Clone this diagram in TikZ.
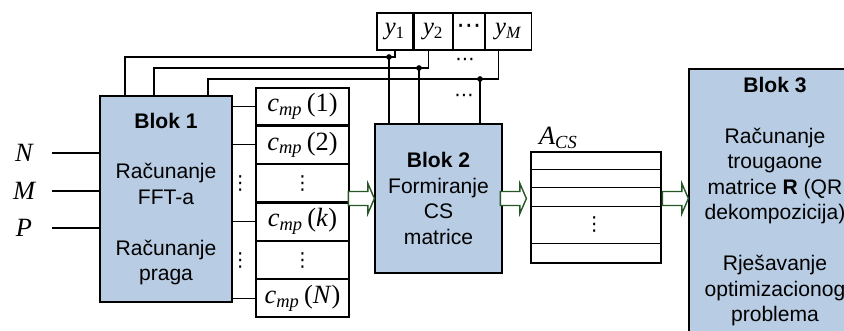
\documentclass[tikz,border=0pt]{standalone}
\usepackage{fontspec}
\setsansfont{Liberation Sans}
\newfontfamily\tms{Liberation Serif}
\newfontfamily\djv{DejaVu Sans}
\usepackage{tikz}
\usetikzlibrary{positioning,calc}

\definecolor{blkfill}{RGB}{184,204,228}
\definecolor{arrgreen}{RGB}{38,88,38}
\newcommand{\cmp}[1]{\textit{c}\textsubscript{\textit{mp}}\,(#1)}

\begin{document}
\begin{tikzpicture}[
    line width=0.7pt,
    blk/.style={draw, fill=blkfill, align=center, inner sep=0pt,
      font=\sffamily\fontsize{12}{14.5}\selectfont},
    cell/.style={draw, minimum width=1.86cm, minimum height=0.743cm, inner sep=0pt,
      font=\tms\fontsize{15}{18}\selectfont},
    ybox/.style={draw, minimum height=0.74cm, inner sep=0pt,
      font=\tms\fontsize{14}{17}\selectfont},
    lbl/.style={minimum width=1.08cm, inner sep=0pt, font=\tms\itshape\fontsize{15}{18}\selectfont},
    dts/.style={inner sep=0pt, font=\djv\fontsize{11}{12}\selectfont},
    jdot/.style={circle, fill, inner sep=0pt, minimum size=3.2pt},
    hollow/.pic={\draw[arrgreen, line width=0.8pt, fill=white]
      (-0.52,0.14) -- (-0.13,0.14) -- (-0.13,0.3) -- (0,0) -- (-0.13,-0.3)
      -- (-0.13,-0.14) -- (-0.52,-0.14) -- cycle;}
  ]
  \useasboundingbox (0,0) rectangle (16.88,-6.62);
  \clip (0,0) rectangle (16.88,-6.62);

  % blocks
  \node[blk, minimum width=2.64cm, minimum height=4.12cm] (blok1) at (3.32,-3.98)
    {\textbf{Blok 1}\\[14.5pt]Računanje\\FFT-a\\[14.5pt]Računanje\\praga};
  \node[blk, minimum width=2.54cm, minimum height=2.98cm] (blok2) at (8.77,-3.97)
    {\textbf{Blok 2}\\Formiranje\\CS\\matrice};
  \node[blk, minimum width=3.44cm, minimum height=5.3cm] (blok3) at (15.5,-4.03)
    {\textbf{Blok 3}\\[14.5pt]Računanje\\trougaone\\matrice \textbf{R} (QR\\dekompozicija)\\[14.5pt]Rješavanje\\optimizacionog\\problema};

  % inputs
  \node[lbl] (inN) at (0.48,-3.06) {N};
  \node[lbl] (inM) at (0.48,-3.82) {M};
  \node[lbl] (inP) at (0.48,-4.56) {P};
  \foreach \n in {inN,inM,inP}
    \draw (\n.east) -- (\n.east -| blok1.west);

  % c_mp column
  \node[cell] (c1) at (6.05,-2.13) {\cmp{1}};
  \node[cell, below=0pt of c1] (c2) {\cmp{2}};
  \node[cell, below=0pt of c2] (c3) {};
  \node[cell, below=0pt of c3] (c4) {\cmp{\textit{k}}};
  \node[cell, below=0pt of c4] (c5) {};
  \node[cell, below=0pt of c5] (c6) {\cmp{\textit{N}}};
  \foreach \i in {1,2,4,6}
    \draw (c\i.west) -- (c\i.west -| blok1.east);
  \foreach \i in {3,5} {
    \node[dts] at (c\i) {⋮};
    \node[dts] at ($(c\i.west)+(-0.3,0)$) {⋮};
  }

  % y vector
  \node[ybox, minimum width=0.72cm] (y1) at (7.9,-0.63) {\textit{y}\textsubscript{1}};
  \node[ybox, minimum width=0.76cm, right=0pt of y1] (y2) {\textit{y}\textsubscript{2}};
  \node[ybox, minimum width=0.62cm, right=0pt of y2] (ydots) {\raisebox{3pt}{\djv ⋯}};
  \node[ybox, minimum width=0.92cm, right=0pt of ydots] (yM) {\textit{y}\textsubscript{\textit{M}}};

  \coordinate (j1) at (7.78,-1.14);
  \coordinate (j2) at (8.38,-1.36);
  \coordinate (j3) at (9.6,-1.58);
  \draw ([xshift=-0.82cm]blok1.north) |- (j1) -| (y1.south);
  \draw ([xshift=-0.24cm]blok1.north) |- (j2) -| ([xshift=-0.1cm]y2.south);
  \draw ([xshift=0.84cm]blok1.north) |- (j3) -| ([xshift=-0.2cm]yM.south);
  \foreach \j in {j1,j2,j3} {
    \draw (\j) -- (\j |- blok2.north);
    \node[jdot] at (\j) {};
  }
  \node[dts] at (9.3,-1.24) {⋯};
  \node[dts] at (9.28,-1.96) {⋯};

  % A_CS matrix
  \node[draw, minimum width=2.6cm, minimum height=2.22cm, inner sep=0pt] (acs) at (11.92,-4.15) {};
  \foreach \d in {0.36,0.72,1.1,1.84}
    \draw ([yshift=-\d cm]acs.north west) -- ([yshift=-\d cm]acs.north east);
  \node[dts] at ($(acs.north west)+(1.28,-1.47)$) {⋮};
  \node[anchor=south west, inner sep=0pt, font=\tms\fontsize{15}{18}\selectfont] (acslbl)
    at ([xshift=0.16cm, yshift=0.04cm]acs.north west) {\textit{A}\textsubscript{\textit{CS}}};

  % data flow
  \pic at (blok2.west) {hollow};
  \pic at ([xshift=-0.08cm]acs.west |- blok2.west) {hollow};
  \pic at (blok3.west |- blok2.west) {hollow};
\end{tikzpicture}
\end{document}
